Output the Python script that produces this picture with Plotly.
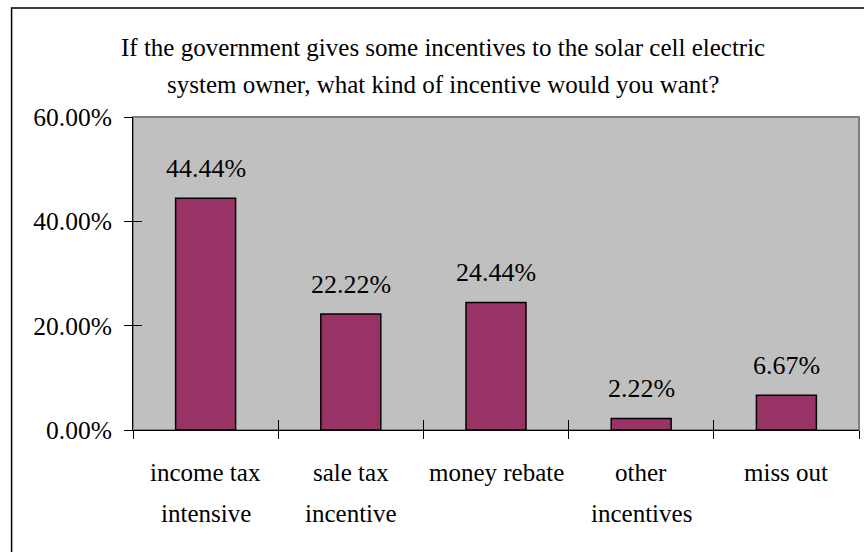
import plotly.graph_objects as go

categories = ["income tax intensive", "sale tax incentive", "money rebate",
              "other incentives", "miss out"]
line1 = ["income tax", "sale tax", "money rebate", "other", "miss out"]
line2 = ["intensive", "incentive", "", "incentives", ""]
values = [0.4444, 0.2222, 0.2444, 0.0222, 0.0667]
title_lines = ["If the government gives some incentives to the solar cell electric",
               "system owner, what kind of incentive would you want?"]
y_ticks = [0, 0.2, 0.4, 0.6]

W, H = 864, 552
L, R, T, B = 132.5, 5, 117, 122
pw, ph = W - L - R, H - T - B
FONT = "Liberation Serif"

def px_x(px):
    return (px - L) / pw

def px_y(py):
    return (H - B - py) / ph

fig = go.Figure()
fig.add_trace(go.Bar(
    x=categories, y=values,
    marker=dict(color="#993366", line=dict(color="black", width=1.5)),
    hoverinfo="skip", showlegend=False,
))
# invisible twin for inner tick marks
fig.add_trace(go.Bar(
    x=categories, y=values, xaxis="x2", yaxis="y2",
    marker=dict(color="rgba(0,0,0,0)", line=dict(width=0)),
    hoverinfo="skip", showlegend=False,
))

annotations = []
for c, v in zip(categories, values):
    annotations.append(dict(x=c, y=v, xref="x", yref="y", text=f"{v:.2%}",
                            showarrow=False, yanchor="middle", yshift=30,
                            font=dict(family=FONT, size=26, color="black")))
for c, a, b in zip(categories, line1, line2):
    annotations.append(dict(x=c, y=px_y(472), xref="x", yref="paper", text=a,
                            showarrow=False, yanchor="middle",
                            font=dict(family=FONT, size=25, color="black")))
    if b:
        annotations.append(dict(x=c, y=px_y(513), xref="x", yref="paper", text=b,
                                showarrow=False, yanchor="middle",
                                font=dict(family=FONT, size=25, color="black")))
for t, cy in zip(title_lines, [47, 84]):
    annotations.append(dict(x=px_x(443), y=px_y(cy), xref="paper", yref="paper",
                            text=t, showarrow=False, xanchor="center", yanchor="middle",
                            font=dict(family=FONT, size=25, color="black")))

fig.update_layout(
    width=W, height=H,
    margin=dict(l=L, r=R, t=T, b=B, pad=0),
    paper_bgcolor="white", plot_bgcolor="#C0C0C0",
    bargap=0.587,
    font=dict(family=FONT, size=25, color="black"),
    annotations=annotations,
    xaxis=dict(type="category", categoryarray=categories, range=[-0.5, 4.5],
               showticklabels=False, tickson="boundaries", ticks="outside",
               ticklen=8, tickcolor="black", tickwidth=1,
               showline=True, linecolor="black", linewidth=1,
               showgrid=False, zeroline=False, fixedrange=True),
    xaxis2=dict(type="category", overlaying="x", matches="x", anchor="y",
                showticklabels=False, tickson="boundaries", ticks="inside",
                ticklen=10, tickcolor="black", tickwidth=1,
                showline=False, showgrid=False, zeroline=False),
    yaxis=dict(range=[0, 0.6], tickvals=y_ticks, tickformat=".2%",
               ticks="outside", ticklen=8, tickcolor="black", tickwidth=1,
               ticklabelstandoff=7,
               tickfont=dict(family=FONT, size=25.5, color="black"),
               showline=True, linecolor="black", linewidth=1,
               showgrid=False, zeroline=False, fixedrange=True),
    yaxis2=dict(overlaying="y", matches="y", anchor="x", side="left",
                tickvals=y_ticks, showticklabels=False, ticks="inside",
                ticklen=9, tickcolor="black", tickwidth=1,
                showline=False, showgrid=False, zeroline=False),
    shapes=[
        dict(type="rect", xref="paper", yref="paper", x0=0, y0=0, x1=1, y1=1,
             line=dict(color="#808080", width=2), layer="below"),
        dict(type="rect", xref="paper", yref="paper",
             x0=px_x(11), y0=px_y(556), x1=px_x(866), y1=px_y(8),
             line=dict(color="black", width=1.5), layer="above"),
    ],
)

fig.write_html("out.html")
